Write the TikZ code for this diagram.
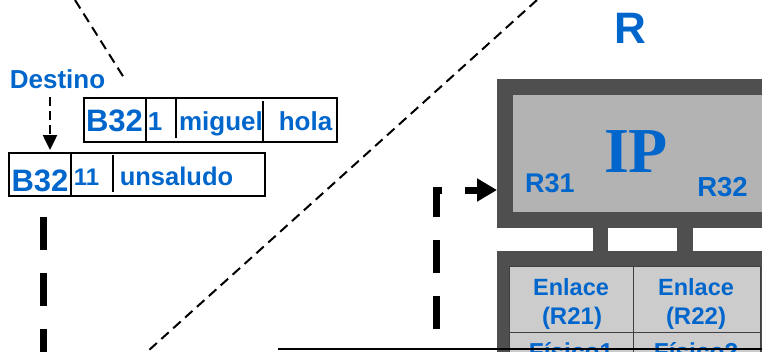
\documentclass[tikz,border=0pt]{standalone}
\usepackage{fontspec}
\setmainfont{Liberation Sans}
\newfontfamily\ipfont{Liberation Serif}
\usetikzlibrary{arrows.meta}
\definecolor{lblblue}{RGB}{0,102,204}
\definecolor{devdark}{RGB}{79,79,79}
\definecolor{devlight}{RGB}{179,179,179}
\definecolor{celllight}{RGB}{204,204,204}
\newcommand{\fsz}[1]{\fontsize{#1}{#1}\selectfont}

\begin{document}
\begin{tikzpicture}[x=1pt, y=-1pt,
  lbl/.style={text=lblblue, font=\bfseries\fsz{#1}, inner sep=0pt, anchor=base},
  frame/.style={draw=black, line width=2.5pt},
  thindash/.style={black, line width=2pt, dash pattern=on 10pt off 6pt},
  bigdash/.style={black, line width=7pt, dash pattern=on 33pt off 23pt}]
\useasboundingbox (0,0) rectangle (762,351);
\clip (0,0) rectangle (762,351);
%
% dashed zoom lines
\coordinate (zoomA1) at (75,0);
\coordinate (zoomA2) at (126,81);
\coordinate (zoomB1) at (537,0);
\coordinate (zoomB2) at (148,351);
\draw[thindash] (zoomA1) -- (zoomA2);
\draw[thindash] (zoomB1) -- (zoomB2);
%
% packet boxes
\draw[frame] (84,98) rectangle (337,142);
\draw[frame] (146,98) -- (146,142);
\draw[frame] (176,98) -- (176,138);
\draw[frame] (263,101) -- (263,142);
\draw[frame] (9,153) rectangle (265,196);
\draw[frame] (71,153) -- (71,196);
\draw[frame] (113,155) -- (113,192);
% packet texts
\node[lbl=31] (upB32) at (114.5,131) {B32};
\node[lbl=26] (upseq) at (155,130) {1};
\node[lbl=26] (upname) at (221,130) {miguel};
\node[lbl=26] (uptext) at (305.5,130) {hola};
\node[lbl=31] (lowB32) at (40,191) {B32};
\node[lbl=24] (lowseq) at (86.5,185) {11};
\node[lbl=25.5] (lowtext) at (176.5,185) {unsaludo};
%
% destination label and arrow
\node[lbl=26] (destino) at (57.5,88) {Destino};
\coordinate (desttip) at (50,150);
\draw[black, line width=2.5pt, dash pattern=on 9pt off 5pt,
  -{Triangle[length=15pt,width=14pt]}] (destino.south -| desttip) ++(0,9) -- (desttip);
%
% router R
\node[lbl=44] (rname) at (630,43) {R};
\fill[devdark] (497,79) rectangle (790,228);
\fill[devlight] (513,95) rectangle (790,212);
\fill[devdark] (593,226) rectangle (608,253);
\fill[devdark] (677,226) rectangle (693,253);
\fill[devdark] (497,251) rectangle (790,380);
\foreach \i in {0,1}{
\foreach \j in {0,1}{
\draw[fill=celllight, draw=devdark!80!black, line width=1pt]
  (509+124*\i,266+66*\j) rectangle (633+127*\i,332+66*\j);
} }
\node[lbl=64, font=\ipfont\bfseries\fsz{64}] (ip) at (636,172) {IP};
\node[lbl=27] (r31) at (550,192) {R31};
\node[lbl=27.5] (r32) at (722.5,196) {R32};
\node[lbl=23.5] (link1) at (571,295) {Enlace};
\node[lbl=24] (link1id) at (572,324) {(R21)};
\node[lbl=23.5] (link2) at (696,295) {Enlace};
\node[lbl=24] (link2id) at (696,324) {(R22)};
\node[lbl=24.5] (phys1) at (571,360) {Físico1};
\node[lbl=24.5] (phys2) at (696,360) {Físico2};
%
% thick dashed paths
\coordinate (upstart) at (436,351);
\coordinate (inR31) at (497,190);
\draw[bigdash, dash phase=34pt, -{Triangle[length=20pt,width=22pt]}] (upstart) |- (inR31);
\coordinate (downstart) at (43,217);
\coordinate (downend) at (43,380);
\draw[bigdash] (downstart) -- (downend);
%
% base line
\coordinate (baseL) at (278,349);
\coordinate (baseR) at (762,349);
\draw[black, line width=2pt] (baseL) -- (baseR);
\end{tikzpicture}
\end{document}
